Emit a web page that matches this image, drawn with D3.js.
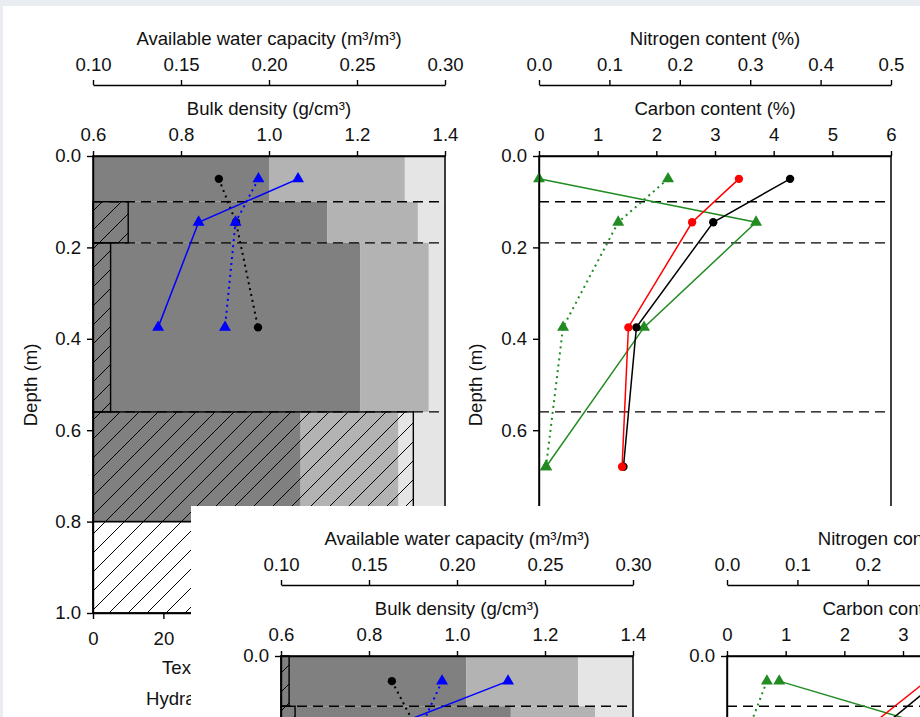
<!DOCTYPE html>
<html><head><meta charset="utf-8">
<script src="https://cdn.jsdelivr.net/npm/d3@7"></script>
<style>
html,body{margin:0;padding:0;background:#e9ecf0;}
svg{display:block;}
text{font-family:"Liberation Sans",Arial,Helvetica,sans-serif;fill:#111;}
</style></head><body>
<svg id="chart" width="920" height="717"></svg>
<script>
// ---------- shared tick labels ----------
const awcTicks = [0.10, 0.15, 0.20, 0.25, 0.30];
const bulkTicks = [0.6, 0.8, 1.0, 1.2, 1.4];
const textureTicks = [0, 20, 40, 60, 80, 100];
const depthTicks = [0.0, 0.2, 0.4, 0.6, 0.8, 1.0];
const nitrogenTicks = [0.0, 0.1, 0.2, 0.3, 0.4, 0.5];
const carbonTicks = [0, 1, 2, 3, 4, 5, 6];

// ---------- profile 1 ----------
const p1LayerTop    = [0.00, 0.10, 0.19, 0.56, 0.80];
const p1LayerBottom = [0.10, 0.19, 0.56, 0.80, 1.00];
const p1Clay   = [50.0, 66.5, 76.0, 59.0, null];
const p1Silt   = [38.6, 25.8, 19.4, 27.8, null];
const p1Stones = [0, 10, 5, 91, 100];
const p1Horizons = [0.10, 0.19, 0.56];
const p1SampleDepth = [0.05, 0.145, 0.375];
const p1BulkDensity = [0.886, 0.925, 0.975];
const p1AwcField = [0.2165, 0.160, 0.137];
const p1AwcLab   = [0.194, 0.181, 0.175];
const p1ChemDepth = [0.05, 0.145, 0.375, 0.68];
const p1Carbon    = [4.28, 2.97, 1.66, 1.44];
const p1Nitrogen  = [0.284, 0.2175, 0.127, 0.118];
const p1CarbonAltA = [0.00, 3.70, 1.79, 0.12];
const p1CarbonAltB = [2.20, 1.35, 0.41, 0.12];

// ---------- profile 2 ----------
const p2LayerTop    = [0.00, 0.11];
const p2LayerBottom = [0.11, 0.35];
const p2Clay   = [52.6, 65.3];
const p2Silt   = [31.8, 23.9];
const p2Stones = [2.3, 4];
const p2Horizons = [0.11];
const p2SampleDepth = [0.055, 0.16];
const p2BulkDensity = [0.852, 0.909];
const p2AwcField = [0.229, 0.159];
const p2AwcLab   = [0.1915, 0.179];
const p2ChemDepth = [0.055, 0.16];
const p2Carbon    = [3.60, 2.60];
const p2Nitrogen  = [0.283, 0.1975];
const p2CarbonAltA = [0.89, 3.65];
const p2CarbonAltB = [0.68, 0.37];

const svg = d3.select("#chart");
const W = 920, H = 717;
const FS = 18.6;
const sheet2Box = { x: 191, y: 506, w: 729, h: 211 };

// diagonal hatching used for the stone fraction boxes
const defs = svg.append("defs");
const P = 19;
defs.append("pattern")
  .attr("id", "hatch").attr("patternUnits", "userSpaceOnUse")
  .attr("width", P).attr("height", P)
  .append("path")
  .attr("d", `M0,${P} L${P},0 M-3,3 L3,-3 M${P-3},${P+3} L${P+3},${P-3}`)
  .attr("stroke", "#000").attr("stroke-width", 1);

defs.append("clipPath").attr("id", "clip2")
  .append("rect").attr("x", sheet2Box.x).attr("y", sheet2Box.y)
  .attr("width", sheet2Box.w).attr("height", sheet2Box.h);

// page
svg.append("rect").attr("x", 3).attr("y", 6).attr("width", W - 3).attr("height", H - 6).attr("fill", "#fff");

function zip(xs, ys) { return xs.map((x, i) => ({ x, y: ys[i] })); }

function drawFigure(root, f) {
  const g = root.append("g").attr("transform", `translate(${f.dx},${f.dy})`);
  const yDepth = d3.scaleLinear([0, 1], [156, 613]);
  const xTex = d3.scaleLinear([0, 100], [93, 445]);
  const xBulk = d3.scaleLinear([0.6, 1.4], [93, 445]);
  const xAwc = d3.scaleLinear([0.10, 0.30], [93, 445]);
  const xC = d3.scaleLinear([0, 6], [539, 891]);
  const xN = d3.scaleLinear([0, 0.5], [539, 891]);

  // texture bars: clay / silt / sand per layer
  const segs = [];
  f.layerTop.forEach((t, i) => {
    const c = f.clay[i], s = f.silt[i];
    if (c == null) return;
    const b = f.layerBottom[i];
    segs.push({ t, b, a: 0, e: c, col: "#808080" });
    segs.push({ t, b, a: c, e: c + s, col: "#b3b3b3" });
    segs.push({ t, b, a: c + s, e: 100, col: "#e5e5e5" });
  });
  g.append("g").selectAll("rect").data(segs).join("rect")
    .attr("x", d => xTex(d.a)).attr("width", d => xTex(d.e) - xTex(d.a))
    .attr("y", d => yDepth(d.t)).attr("height", d => yDepth(d.b) - yDepth(d.t))
    .attr("fill", d => d.col);

  // horizon boundaries
  [[93, 445], [539, 891]].forEach(([a, b]) => {
    g.append("g").selectAll("line").data(f.horizons).join("line")
      .attr("x1", a).attr("x2", b)
      .attr("y1", d => yDepth(d)).attr("y2", d => yDepth(d))
      .attr("stroke", "#000").attr("stroke-width", 1.4).attr("stroke-dasharray", "10,6");
  });

  // stone fraction boxes
  const stones = f.layerTop.map((t, i) => ({ t, b: f.layerBottom[i], v: f.stones[i] })).filter(d => d.v > 0);
  g.append("g").selectAll("rect").data(stones).join("rect")
    .attr("x", xTex(0)).attr("width", d => xTex(d.v) - xTex(0))
    .attr("y", d => yDepth(d.t)).attr("height", d => yDepth(d.b) - yDepth(d.t))
    .attr("fill", "url(#hatch)").attr("stroke", "#000").attr("stroke-width", 1.4);

  // panel frames
  g.append("rect").attr("x", 93).attr("y", 156).attr("width", 352).attr("height", 457)
    .attr("fill", "none").attr("stroke", "#000").attr("stroke-width", 1.5);
  g.append("rect").attr("x", 539).attr("y", 156).attr("width", 352).attr("height", 457)
    .attr("fill", "none").attr("stroke", "#000").attr("stroke-width", 1.5);

  // profiles
  const series = [
    { pts: zip(f.bulk.map(xBulk), f.sampleDepth.map(yDepth)), col: "#000", dash: "2,4", sym: d3.symbolCircle },
    { pts: zip(f.awcLab.map(xAwc), f.sampleDepth.map(yDepth)), col: "#0000ff", dash: "2,4", sym: d3.symbolTriangle },
    { pts: zip(f.awcField.map(xAwc), f.sampleDepth.map(yDepth)), col: "#0000ff", dash: null, sym: d3.symbolTriangle },
    { pts: zip(f.carbonAltB.map(xC), f.chemDepth.map(yDepth)), col: "#228b22", dash: "2,4", sym: d3.symbolTriangle },
    { pts: zip(f.carbonAltA.map(xC), f.chemDepth.map(yDepth)), col: "#228b22", dash: null, sym: d3.symbolTriangle },
    { pts: zip(f.carbon.map(xC), f.chemDepth.map(yDepth)), col: "#000", dash: null, sym: d3.symbolCircle },
    { pts: zip(f.nitrogen.map(xN), f.chemDepth.map(yDepth)), col: "#ff0000", dash: null, sym: d3.symbolCircle }
  ];
  const line = d3.line().x(d => d.x).y(d => d.y);
  series.forEach(s => {
    g.append("path").attr("d", line(s.pts)).attr("fill", "none")
      .attr("stroke", s.col).attr("stroke-width", s.dash ? 2 : 1.5)
      .attr("stroke-dasharray", s.dash);
    g.append("g").selectAll("path").data(s.pts).join("path")
      .attr("transform", d => `translate(${d.x},${d.y})`)
      .attr("d", d3.symbol(s.sym, s.sym === d3.symbolCircle ? 55 : 62)())
      .attr("fill", s.col);
  });

  // axes
  function styleAxis(sel) {
    sel.selectAll("path.domain").attr("stroke", "#000").attr("stroke-width", 1.4);
    sel.selectAll(".tick line").attr("stroke", "#000").attr("stroke-width", 1.4);
    sel.selectAll("text").attr("font-size", FS).attr("fill", "#111")
      .attr("font-family", "'Liberation Sans', Arial, sans-serif");
  }
  g.append("g").attr("transform", "translate(0,85)")
    .call(d3.axisTop(xAwc).tickValues(awcTicks).tickFormat(d3.format(".2f")).tickSize(5).tickSizeOuter(0).tickPadding(9))
    .call(styleAxis);
  g.append("g").attr("transform", "translate(0,156)")
    .call(d3.axisTop(xBulk).tickValues(bulkTicks).tickFormat(d3.format(".1f")).tickSize(5).tickSizeOuter(0).tickPadding(10.5))
    .call(styleAxis);
  g.append("g").attr("transform", "translate(0,613)")
    .call(d3.axisBottom(xTex).tickValues(textureTicks).tickSize(6).tickSizeOuter(0).tickPadding(13))
    .call(styleAxis);
  g.append("g").attr("transform", "translate(93,0)")
    .call(d3.axisLeft(yDepth).tickValues(depthTicks).tickFormat(d3.format(".1f")).tickSize(6).tickSizeOuter(0).tickPadding(6))
    .call(styleAxis);
  g.append("g").attr("transform", "translate(0,85)")
    .call(d3.axisTop(xN).tickValues(nitrogenTicks).tickFormat(d3.format(".1f")).tickSize(5).tickSizeOuter(0).tickPadding(9))
    .call(styleAxis);
  g.append("g").attr("transform", "translate(0,156)")
    .call(d3.axisTop(xC).tickValues(carbonTicks).tickFormat(d3.format("d")).tickSize(5).tickSizeOuter(0).tickPadding(10.5))
    .call(styleAxis);
  g.append("g").attr("transform", "translate(539,0)")
    .call(d3.axisLeft(yDepth).tickValues(depthTicks).tickFormat(d3.format(".1f")).tickSize(6).tickSizeOuter(0).tickPadding(6))
    .call(styleAxis);

  // titles
  const title = (x, y, txt, anchor = "middle") =>
    g.append("text").attr("x", x).attr("y", y).attr("text-anchor", anchor).attr("font-size", FS).text(txt);
  title(269, 44.5, "Available water capacity (m³/m³)");
  title(269, 114.5, "Bulk density (g/cm³)");
  title(715, 44.5, "Nitrogen content (%)");
  title(715, 114.5, "Carbon content (%)");
  title(162, 674, "Texture and stone content (%)", "start");
  title(146, 705, "Hydraulic conductivity (mm/h)", "start");
  [37, 481.5].forEach(x =>
    g.append("text").attr("transform", `translate(${x},385) rotate(-90)`)
      .attr("text-anchor", "middle").attr("font-size", FS).text("Depth (m)"));
  return g;
}

const sheet1 = drawFigure(svg, {
  dx: 0, dy: 0,
  layerTop: p1LayerTop, layerBottom: p1LayerBottom, clay: p1Clay, silt: p1Silt, stones: p1Stones,
  horizons: p1Horizons, sampleDepth: p1SampleDepth, bulk: p1BulkDensity,
  awcField: p1AwcField, awcLab: p1AwcLab, chemDepth: p1ChemDepth,
  carbon: p1Carbon, nitrogen: p1Nitrogen, carbonAltA: p1CarbonAltA, carbonAltB: p1CarbonAltB
});

// second profile sheet, laid over the lower part of the first
const sheet2Wrap = svg.append("g").attr("clip-path", "url(#clip2)");
sheet2Wrap.append("rect").attr("x", sheet2Box.x).attr("y", sheet2Box.y)
  .attr("width", sheet2Box.w).attr("height", sheet2Box.h).attr("fill", "#fff");
const sheet2 = drawFigure(sheet2Wrap, {
  dx: 188, dy: 500,
  layerTop: p2LayerTop, layerBottom: p2LayerBottom, clay: p2Clay, silt: p2Silt, stones: p2Stones,
  horizons: p2Horizons, sampleDepth: p2SampleDepth, bulk: p2BulkDensity,
  awcField: p2AwcField, awcLab: p2AwcLab, chemDepth: p2ChemDepth,
  carbon: p2Carbon, nitrogen: p2Nitrogen, carbonAltA: p2CarbonAltA, carbonAltB: p2CarbonAltB
});

// drop labels that can never be seen: first-sheet labels fully under the second sheet,
// second-sheet labels lying wholly below or right of the page
sheet1.selectAll("text").each(function () {
  const r = this.getBoundingClientRect();
  if (r.left >= sheet2Box.x && r.top >= sheet2Box.y) this.remove();
});
sheet2.selectAll("text").each(function () {
  const r = this.getBoundingClientRect();
  if (r.top >= H || r.left >= W) this.remove();
});
</script></body></html>
